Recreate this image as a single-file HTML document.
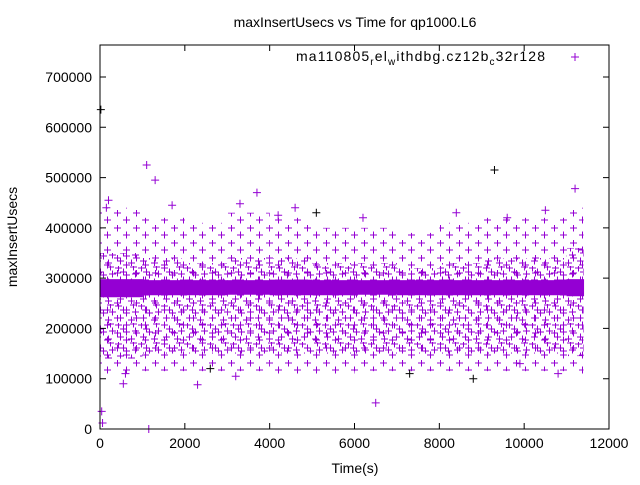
<!DOCTYPE html>
<html><head><meta charset="utf-8"><style>
body{margin:0;background:#fff}
svg text{font-family:"Liberation Sans",sans-serif;font-size:14px;fill:#000}
</style></head><body>
<svg width="640" height="480" xmlns="http://www.w3.org/2000/svg">
<defs>
<pattern id="cloud" width="23" height="19" patternUnits="userSpaceOnUse">
<path d="M0 2h7M3.5 -1.5v7M8 9h7M11.5 5.5v7M15 1h7M18.5 -2.5v7M2 14h7M5.5 10.5v7M13 16h7M16.5 12.5v7M17 8h7M20.5 4.5v7M-6 8h7M-2.5 4.5v7M5 6h7M8.5 2.5v7" stroke="#9400d3" stroke-width="1"/></pattern>
<pattern id="cloudlite" width="19" height="15" patternUnits="userSpaceOnUse">
<path d="M0 3h7M3.5 -0.5v7M9 10h7M12.5 6.5v7" stroke="#9400d3" stroke-width="1"/></pattern>
</defs>
<rect x="0" y="0" width="640" height="480" fill="#fff"/>
<g id="marks"></g>
<rect x="100" y="45" width="509" height="384" fill="none" stroke="#000"/>
<g id="axes"></g>
<text x="355" y="27" text-anchor="middle">maxInsertUsecs vs Time for qp1000.L6</text>
<text x="355" y="473" text-anchor="middle">Time(s)</text>
<text transform="translate(17,237) rotate(-90)" text-anchor="middle">maxInsertUsecs</text>
<g>
<text x="296" y="61" textLength="249" lengthAdjust="spacing">ma110805<tspan font-size="10" dy="4">r</tspan><tspan dy="-4">el</tspan><tspan font-size="10" dy="4">w</tspan><tspan dy="-4">ithdbg.cz12b</tspan><tspan font-size="10" dy="4">c</tspan><tspan dy="-4">32r128</tspan></text>
<path d="M571 57h8M575 53v8" stroke="#9400d3"/>
</g>
</svg>
<script>
const xTicks=[0,2000,4000,6000,8000,10000,12000];
const yTicks=[0,100000,200000,300000,400000,500000,600000,700000];
// dense band: bin start, lo, hi
const bandX=[0,1000,2000,3000,4000,5000,6000,7000,8000,9000,10000,11000];
const bandLo=[262000,266000,266000,267000,266000,266000,267000,266000,266000,266000,266000,264000];
const bandHi=[298000,296000,296000,296000,297000,296000,296000,296000,296000,296000,296000,298000];
// cloud main density region
const cloudLo=[140000,150000,150000,150000,150000,150000,150000,150000,150000,150000,150000,145000];
const cloudHi=[350000,340000,330000,340000,340000,330000,330000,320000,330000,340000,340000,360000];
const liteLo=[110000,115000,115000,115000,110000,110000,115000,115000,115000,115000,115000,110000];
const liteHi=[440000,420000,410000,430000,420000,400000,400000,390000,410000,420000,420000,440000];
const binEnd=11400;
// outliers
const ptX=[20,40,60,150,1100,1300,9300,11200,6500,1150,3300,4600,2600,550,7300,8400,9600,10500,600,2300,3700,200,1700,5100,9900,10800,8800,6200,4200,3200];
const ptY=[635000,35000,12000,440000,525000,495000,515000,478000,52000,0,448000,440000,120000,90000,110000,430000,420000,435000,110000,88000,470000,455000,445000,430000,130000,110000,100000,420000,425000,105000];
const ptC=['k','p','p','p','p','p','k','p','p','p','p','p','k','p','k','p','p','p','p','p','p','p','p','k','p','p','k','p','p','p'];
const X=v=>100+v/12000*509, Y=v=>429-v/700000*352;
const NS='http://www.w3.org/2000/svg';
const m=document.getElementById('marks'), ax=document.getElementById('axes');
function mk(t,a,p){const e=document.createElementNS(NS,t);for(const k in a)e.setAttribute(k,a[k]);p.appendChild(e);return e;}
for(let i=0;i<bandX.length;i++){
 const x0=X(bandX[i]), x1=X(i+1<bandX.length?bandX[i+1]:binEnd);
 let r=mk('rect',{x:x0,y:Y(liteHi[i]),width:x1-x0,height:Y(liteLo[i])-Y(liteHi[i]),fill:'url(#cloudlite)'},m);
 
 
 r=mk('rect',{x:x0,y:Y(cloudHi[i]),width:x1-x0,height:Y(cloudLo[i])-Y(cloudHi[i]),fill:'url(#cloud)'},m);
 
 
 r=mk('rect',{x:x0,y:Y(bandHi[i]),width:x1-x0+0.5,height:Y(bandLo[i])-Y(bandHi[i]),fill:'#9400d3'},m);
 
 
}
for(let i=0;i<ptX.length;i++){
 const x=X(ptX[i]),y=Y(ptY[i]);
 const p=mk('path',{d:`M${x-4} ${y}h8M${x} ${y-4}v8`,stroke:ptC[i]=='k'?'#000':'#9400d3'},m);
 
 
}
xTicks.forEach(v=>{const x=X(v);
 mk('path',{d:`M${x} 429v-6M${x} 45v6`,stroke:'#000'},ax);
 const t=mk('text',{x:x,y:448,'text-anchor':'middle'},ax);t.textContent=v;
 
 });
yTicks.forEach(v=>{const y=Y(v);
 mk('path',{d:`M100 ${y}h6M609 ${y}h-6`,stroke:'#000'},ax);
 const t=mk('text',{x:92,y:y+5,'text-anchor':'end'},ax);t.textContent=v;
 
 });
</script>
</body></html>
